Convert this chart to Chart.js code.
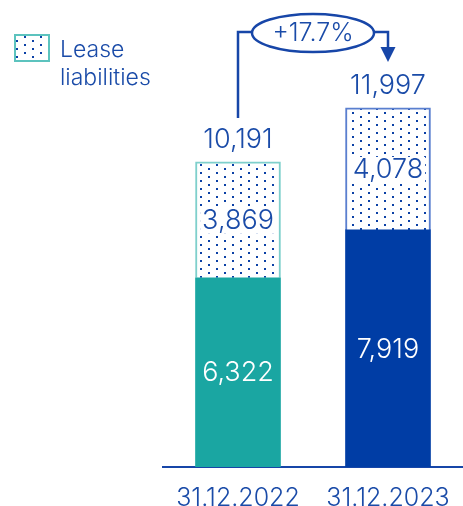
<!DOCTYPE html>
<html>
<head>
<meta charset="utf-8">
<script src="https://cdn.jsdelivr.net/npm/chart.js@4.4.1/dist/chart.umd.min.js"></script>
<style>
  html, body { margin: 0; padding: 0; background: #fff; }
  #wrap { width: 463px; height: 506px; position: relative; }
</style>
</head>
<body>
<div id="wrap"><canvas id="debtChart"></canvas></div>
<script>
// --- data ---
const categories = ['31.12.2022', '31.12.2023'];
const ownValues = [6322, 7919];
const leaseValues = [3869, 4078];
const leaseLabel = 'Lease liabilities';
const growthLabel = '+17.7%';
const yMax = 15600;

const TEXT_BLUE = '#1a4ba8';
const TEAL = '#1aa6a2';
const DARK_BLUE = '#003da5';
const FONT = 'Inter, "Open Sans", sans-serif';

const canvas = document.getElementById('debtChart');
const ctx = canvas.getContext('2d');

// dotted fill used for lease liabilities
function makeDots() {
  const c = document.createElement('canvas');
  c.width = 16; c.height = 8;
  const g = c.getContext('2d');
  g.fillStyle = '#ffffff';
  g.fillRect(0, 0, 16, 8);
  g.fillStyle = '#0b40a6';
  g.fillRect(0, 0, 2, 2);
  g.fillRect(8, 4, 2, 2);
  return ctx.createPattern(c, 'repeat');
}
const dots = makeDots();

const fmt = v => v.toLocaleString('en-US');

// numbers inside the bars + totals on top
const valueLabels = {
  id: 'valueLabels',
  afterDatasetsDraw(chart) {
    const c = chart.ctx;
    c.save();
    c.font = '300 27px ' + FONT;
    c.textAlign = 'center';
    c.textBaseline = 'middle';
    chart.data.datasets.forEach((ds, i) => {
      const meta = chart.getDatasetMeta(i);
      meta.data.forEach((bar, j) => {
        const txt = fmt(ds.data[j]);
        const ty = (bar.y + bar.base) / 2 + 1;
        if (i === 1) {
          // clear the dots behind the number
          const w = c.measureText(txt).width + 4;
          c.fillStyle = '#ffffff';
          c.fillRect(bar.x - w / 2, ty - 13, w, 26);
        }
        c.fillStyle = i === 0 ? '#ffffff' : TEXT_BLUE;
        c.fillText(txt, bar.x, ty);
      });
    });
    // totals
    const top = chart.getDatasetMeta(1);
    top.data.forEach((bar, j) => {
      const total = ownValues[j] + leaseValues[j];
      c.fillStyle = TEXT_BLUE;
      c.fillText(fmt(total), bar.x, bar.y - 22);
    });
    c.restore();
  }
};

// growth bubble with bracket and arrow
const growthBubble = {
  id: 'growthBubble',
  afterDatasetsDraw(chart) {
    const c = chart.ctx;
    const meta = chart.getDatasetMeta(1);
    const b0 = meta.data[0], b1 = meta.data[1];
    const lineY = 32;
    const cx = (b0.x + b1.x) / 2;
    const rx = 61, ry = 19;
    c.save();
    c.strokeStyle = '#1746a8';
    c.fillStyle = '#1746a8';
    c.lineWidth = 2.5;
    // left leg
    c.beginPath();
    c.moveTo(b0.x, b0.y - 44);
    c.lineTo(b0.x, lineY);
    c.lineTo(cx - rx, lineY);
    c.stroke();
    // right leg
    c.beginPath();
    c.moveTo(cx + rx, lineY);
    c.lineTo(b1.x, lineY);
    c.lineTo(b1.x, 48);
    c.stroke();
    // arrow head
    c.beginPath();
    c.moveTo(b1.x - 7.5, 47);
    c.lineTo(b1.x + 7.5, 47);
    c.lineTo(b1.x, 62);
    c.closePath();
    c.fill();
    // bubble
    c.fillStyle = '#ffffff';
    c.beginPath();
    c.ellipse(cx, lineY + 1, rx, ry, 0, 0, Math.PI * 2);
    c.fill();
    c.stroke();
    c.fillStyle = TEXT_BLUE;
    c.font = '300 25px ' + FONT;
    c.textAlign = 'center';
    c.textBaseline = 'middle';
    c.fillText(growthLabel, cx, lineY + 1);
    c.restore();
  }
};

// legend drawn by hand (label wraps onto two lines)
const sideLegend = {
  id: 'sideLegend',
  afterDraw(chart) {
    const c = chart.ctx;
    c.save();
    c.fillStyle = dots;
    c.fillRect(15, 35, 34, 26);
    c.strokeStyle = '#5cc3be';
    c.lineWidth = 2;
    c.strokeRect(15, 35, 34, 26);
    c.fillStyle = TEXT_BLUE;
    c.font = '300 23px ' + FONT;
    c.textAlign = 'left';
    c.textBaseline = 'middle';
    const words = leaseLabel.split(' ');
    c.fillText(words[0], 60, 50);
    c.fillText(words[1], 60, 78);
    c.restore();
  }
};

new Chart(canvas, {
  type: 'bar',
  data: {
    labels: categories,
    datasets: [{
      label: 'Own',
      data: ownValues,
      backgroundColor: [TEAL, DARK_BLUE],
      borderWidth: 0,
      barThickness: 85
    }, {
      label: leaseLabel,
      data: leaseValues,
      backgroundColor: dots,
      borderColor: ['#7fd0cc', '#5a7fcf'],
      borderWidth: 2,
      borderSkipped: 'bottom',
      barThickness: 85
    }]
  },
  options: {
    responsive: true,
    maintainAspectRatio: false,
    animation: false,
    layout: { padding: { left: 163, right: -5, top: 0, bottom: 0 } },
    plugins: {
      legend: { display: false },
      tooltip: { enabled: false }
    },
    scales: {
      x: {
        stacked: true,
        grid: { display: false },
        border: { display: true, color: '#1746a8', width: 2 },
        ticks: {
          color: TEXT_BLUE,
          padding: 11,
          maxRotation: 0,
          font: { family: FONT, size: 25, weight: 300, lineHeight: 1 }
        },
        afterFit(scale) {
          scale.height = 39;
        }
      },
      y: {
        stacked: true,
        display: false,
        min: 0,
        max: yMax
      }
    }
  },
  plugins: [valueLabels, growthBubble, sideLegend]
});
</script>
</body>
</html>
